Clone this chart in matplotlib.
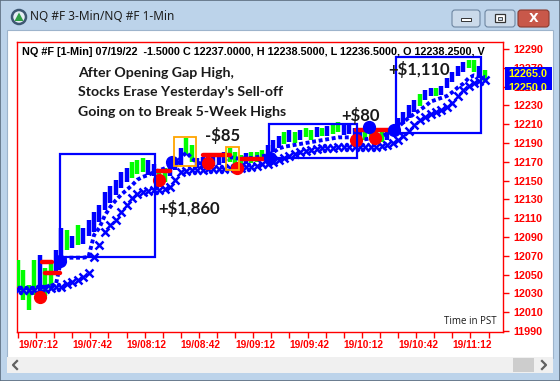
import numpy as np
import matplotlib
matplotlib.use("Agg")
import matplotlib.pyplot as plt
from matplotlib.patches import Rectangle, Circle, Polygon, FancyBboxPatch

W, H = 560, 381

# minutes after 19/07:12, one bar every 3 minutes
t = list(range(0, 261, 3))
bar_hi = [12066, 12055, 12039, 12066, 12071, 12057, 12063, 12076, 12100, 12097,
          12091, 12103, 12100, 12108, 12117, 12124, 12138, 12144, 12151, 12159,
          12163, 12170, 12172, 12174, 12172, 12168, 12161, 12163, 12168, 12172,
          12185, 12195, 12188, 12174, 12175, 12176, 12176, 12177, 12180, 12185,
          12180, 12177, 12179, 12180, 12180, 12183, 12188, 12193, 12197, 12202,
          12204, 12202, 12204, 12206, 12204, 12207, 12206, 12208, 12210, 12212,
          12209, 12210, 12206, 12202, 12204, 12206, 12204, 12202, 12204, 12208,
          12217, 12223, 12230, 12236, 12242, 12246, 12248, 12248, 12251, 12259,
          12266, 12272, 12276, 12278, 12278, 12272, 12268]
bar_lo = [12037, 12023, 12012, 12028, 12023, 12027, 12034, 12050, 12066, 12076,
          12078, 12081, 12083, 12091, 12095, 12106, 12119, 12126, 12135, 12142,
          12148, 12153, 12157, 12159, 12156, 12155, 12146, 12148, 12155, 12161,
          12167, 12177, 12170, 12163, 12163, 12163, 12166, 12167, 12169, 12170,
          12166, 12166, 12168, 12169, 12170, 12172, 12176, 12180, 12185, 12189,
          12191, 12190, 12193, 12196, 12193, 12196, 12197, 12197, 12200, 12202,
          12198, 12200, 12193, 12190, 12193, 12196, 12193, 12191, 12193, 12197,
          12204, 12210, 12217, 12223, 12229, 12236, 12240, 12240, 12241, 12249,
          12255, 12261, 12266, 12270, 12266, 12259, 12255]
bar_col = "ggggbggbbgbgbbbbbbbbbgggbbggbbbggbbbbbbgggbgggbbbgbgbggbgbggbbbbggggbbbbbbgbbgbbbbbggbg"

fast_line = [12036, 12036, 12035, 12036, 12037, 12037, 12038, 12040,
             12067, 12068, 12068, 12068, 12068, 12069,
             12092, 12100, 12113, 12122, 12129, 12135, 12140, 12145, 12151, 12154, 12156, 12159, 12161, 12163, 12166, 12168,
             12174, 12180, 12174, 12169, 12168, 12169, 12170, 12170, 12172, 12175, 12174, 12173, 12174, 12174, 12175, 12176,
             12177, 12180, 12184, 12186, 12187, 12188, 12189, 12190, 12191, 12192, 12193, 12194, 12195, 12196, 12196, 12196,
             12195, 12194, 12194, 12195, 12195, 12197, 12200, 12203, 12207, 12212, 12217, 12221, 12225, 12229, 12234, 12236,
             12238, 12240, 12244, 12249, 12253, 12259, 12262, 12261, 12260]
slow_line = [12034, 12034, 12034, 12034, 12035, 12035, 12036, 12037,
             12037, 12040, 12042, 12044, 12047, 12052,
             12069, 12081, 12095, 12103, 12108, 12117, 12124, 12131, 12136, 12138, 12139, 12140, 12140, 12141, 12143, 12151,
             12159, 12160, 12161, 12161, 12161, 12162, 12162, 12162, 12162, 12163, 12163, 12163, 12164, 12165, 12166, 12168,
             12168, 12170, 12172, 12174, 12176, 12178, 12180, 12182, 12183, 12184, 12185, 12185, 12185, 12186, 12186, 12186,
             12186, 12186, 12186, 12186, 12186, 12187, 12188, 12190, 12193, 12197, 12203, 12209, 12214, 12218, 12221, 12223,
             12225, 12228, 12233, 12240, 12246, 12251, 12254, 12256, 12257]

# trade markers
red_dot_t = [12, 78, 105, 121, 187, 197]
red_dot_v = [12026, 12151, 12169, 12163, 12193, 12195]
blue_dot_t = [23, 85, 139, 194, 208]
blue_dot_v = [12064, 12170, 12174, 12207, 12204]
red_dash = [(13, 19, 12063), (15, 23, 12052), (77, 84, 12160),
            (102, 117, 12177), (123, 136, 12173), (187, 207, 12204)]

# highlight boxes (t0, t1, v0, v1)
blue_boxes = [(23.2, 75.7, 12068.7, 12178.3), (208.8, 255.8, 12200.6, 12281.5),
              (138.7, 187.3, 12174, 12210.2)]
orange_boxes = [(86.2, 98.3, 12165.5, 12196.4), (114.9, 122.1, 12161, 12185.7)]

y_ticks = list(range(11990, 12291, 20))
x_major = list(range(0, 241, 30))
x_labels = ["19/07:12", "19/07:42", "19/08:12", "19/08:42", "19/09:12",
            "19/09:42", "19/10:12", "19/10:42", "19/11:12"]
x_minor = list(range(0, 261, 10))

BLUE = "#0000ff"
GREEN = "#00ff00"
RED = "#ff0000"
ORANGE = "#ffa500"


def fx(x):
    return x / W


def fy(y):
    return 1 - y / H


fig = plt.figure(figsize=(5.6, 3.81), dpi=100)

# window chrome, drawn in pixel coords
bg = fig.add_axes([0, 0, 1, 1], zorder=-1)
bg.set_xlim(0, W)
bg.set_ylim(H, 0)
bg.axis("off")
bg.add_patch(Rectangle((0, 0), W, H, facecolor="#bcd3ea", edgecolor="#5d6e80", lw=1.2))
grad = np.linspace(0, 1, 30)[:, None, None]
top_c = np.array([0.88, 0.92, 0.96])
bot_c = np.array([0.76, 0.84, 0.92])
bg.imshow(top_c * (1 - grad) + bot_c * grad, extent=(1, W - 1, 30, 1), aspect="auto")
bg.add_patch(Rectangle((7, 30), 546, 328, facecolor="white", edgecolor="#9db4cc", lw=0.8))
bg.add_patch(Rectangle((7, 357), 546, 16, facecolor="#f0f0f0", edgecolor="none"))
bg.add_patch(Rectangle((513, 358), 21, 14, facecolor="#cdcdcd", edgecolor="none"))
bg.plot([17, 13, 17], [361, 365, 369], color="#606060", lw=1.6)
bg.plot([542, 546, 542], [361, 365, 369], color="#606060", lw=1.6)
# icon
bg.add_patch(Circle((19, 17), 7, facecolor="#e4ecf4", edgecolor="#3d5772", lw=1.8))
bg.add_patch(Polygon([(14.5, 21), (19, 12.5), (23.5, 21)], facecolor="#2e9e44", edgecolor="none"))
# buttons
bg.add_patch(FancyBboxPatch((452, 10), 28, 17, boxstyle="round,pad=0,rounding_size=3",
                            facecolor="#cbdaea", edgecolor="#6f87a2", lw=0.8))
bg.add_patch(Rectangle((461, 18), 10, 3, facecolor="white", edgecolor="#333333", lw=0.7))
bg.add_patch(FancyBboxPatch((485, 10), 30, 17, boxstyle="round,pad=0,rounding_size=3",
                            facecolor="#cbdaea", edgecolor="#6f87a2", lw=0.8))
bg.add_patch(Rectangle((495, 14), 10, 8, facecolor="white", edgecolor="#333333", lw=0.9))
bg.add_patch(Rectangle((498, 16.5), 4, 3, facecolor="#cbdaea", edgecolor="#333333", lw=0.6))
bg.add_patch(FancyBboxPatch((518, 10), 31, 17, boxstyle="round,pad=0,rounding_size=3",
                            facecolor="#c8584a", edgecolor="#8a3a2e", lw=0.8))
bg.text(533.5, 18.5, "X", color="white", fontsize=9, fontweight="bold",
        ha="center", va="center", family="DejaVu Sans")
bg.text(30, 17, "NQ #F 3-Min/NQ #F 1-Min", color="#1e1e1e", fontsize=8.5,
        va="center", ha="left", family="Noto Sans")

# chart
ax = fig.add_axes([fx(17), fy(332), (503 - 17) / W, (332 - 42) / H])
ax.set_xlim(-0.55, 268)
ax.set_ylim(11989, 12297.4)

cols = [GREEN if c == "g" else BLUE for c in bar_col]
ax.vlines(t, bar_lo, bar_hi, colors=cols, lw=3.2, zorder=3)
ax.plot(t, fast_line, color=BLUE, lw=2.8, ls=(0, (1.0, 0.7)), zorder=4)
ax.plot(t, slow_line, ls="none", marker="x", ms=6, mew=1.8, color=BLUE, zorder=4)
for t0, t1, v in red_dash:
    ax.plot([t0, t1], [v, v], color=RED, lw=3.2, solid_capstyle="round", zorder=5)
ax.plot(red_dot_t, red_dot_v, "o", color=RED, ms=8.5, zorder=6)
ax.plot(blue_dot_t, blue_dot_v, "o", color=BLUE, ms=8.5, zorder=6)
for t0, t1, v0, v1 in blue_boxes:
    ax.add_patch(Rectangle((t0, v0), t1 - t0, v1 - v0, fill=False, edgecolor=BLUE, lw=1.6, zorder=7))
for t0, t1, v0, v1 in orange_boxes:
    ax.add_patch(Rectangle((t0, v0), t1 - t0, v1 - v0, fill=False, edgecolor=ORANGE, lw=1.3, zorder=7))

for s in ax.spines.values():
    s.set_color(RED)
    s.set_linewidth(1)
ax.yaxis.tick_right()
ax.set_yticks(y_ticks, [str(v) for v in y_ticks], fontweight="bold", fontsize=7.8,
              family="Liberation Sans")
ax.tick_params(axis="y", colors=RED, length=4, width=1, pad=3.5)
ax.set_xticks(x_major, x_labels, fontweight="bold", fontsize=7.3, family="Liberation Sans", ha="left")
ax.set_xticks(x_minor, minor=True)
ax.tick_params(axis="x", which="both", colors=RED, length=4, width=1, pad=2)
for lbl in ax.get_xticklabels():
    lbl.set_horizontalalignment("left")

# texts
fig.text(fx(22), fy(52), "NQ #F [1-Min] 07/19/22  -1.5000 C 12237.0000, H 12238.5000, "
         "L 12236.5000, O 12238.2500, V", fontsize=7.85, fontweight="bold",
         family="Liberation Sans", va="center", ha="left", color="black")
for i, line in enumerate(["After Opening Gap High,", "Stocks Erase Yesterday's Sell-off",
                          "Going on to Break 5-Week Highs"]):
    fig.text(fx(78), fy(73 + 19.5 * i), line, fontsize=10.2, fontweight="bold", family="Lato",
             va="center", ha="left", color="#1a1a1a")
for x, y, s in [(158, 209, "+$1,860"), (205, 135, "-$85"), (341, 115, "+$80"), (388, 69, "+$1,110")]:
    fig.text(fx(x), fy(y), s, fontsize=12, fontweight="bold", family="Lato",
             va="center", ha="left", color="#1a1a1a")
fig.text(fx(444), fy(322), "Time in PST", fontsize=7, family="Open Sans",
         va="center", ha="left", color="#1a1a1a")

# last price box over the axis
box = Rectangle((fx(505), fy(90)), fx(552) - fx(505), fy(67) - fy(90),
                transform=fig.transFigure, facecolor=BLUE, edgecolor="none", zorder=10)
fig.add_artist(box)
hidden = fig.text(fx(508), fy(88), "12250.0", fontsize=7.8, fontweight="bold",
                  family="Liberation Sans", color="#ffff00", va="center", ha="left", zorder=11)
hidden.set_clip_path(box)
fig.text(fx(508), fy(74), "12265.0", fontsize=7.8, fontweight="bold",
         family="Liberation Sans", color="#ffff00", va="center", ha="left", zorder=11)

fig.savefig("out.png", dpi=100)
